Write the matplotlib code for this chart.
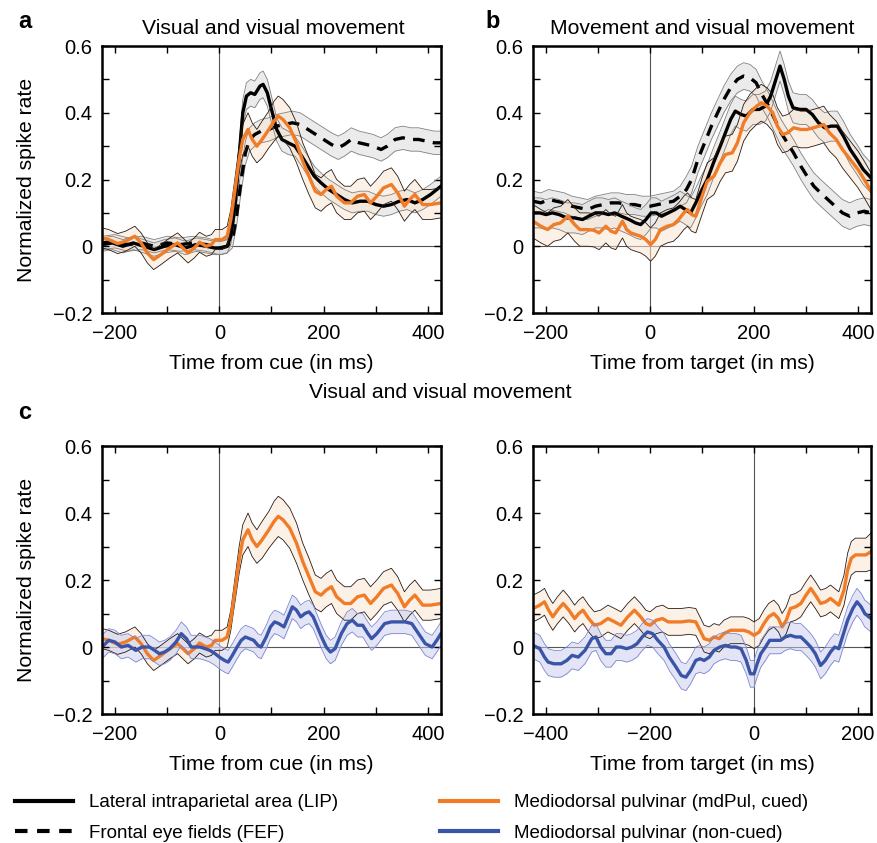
import matplotlib
matplotlib.use("Agg")
import matplotlib.pyplot as plt
from matplotlib.lines import Line2D
from matplotlib.ticker import MultipleLocator, FuncFormatter
import numpy as np

plt.rcParams['font.family'] = ['Liberation Sans', 'DejaVu Sans']
plt.rcParams['font.size'] = 15

ORANGE = '#f07c28'
BLUE = '#3a55a8'

# ---- panel a / c-left : aligned on cue ----
pul_cue_t = [-225, -212, -195, -180, -162, -150, -138, -126, -112, -95,
             -80, -70, -60, -48, -38, -25, -15, -8, 5, 15,
             22, 30, 38, 45, 55, 63, 72, 82, 95, 105,
             113, 122, 135, 148, 160, 172, 184, 195, 205, 215,
             225, 240, 252, 265, 278, 290, 302, 315, 330, 342,
             355, 365, 375, 390, 405, 425]
pul_cue_y = [0.025, 0.02, 0.008, 0.015, 0.03, 0.01, -0.02, -0.04, -0.025, -0.005,
             0.01, -0.005, -0.02, -0.005, 0.012, 0.0, 0.005, 0.02, 0.02, 0.03,
             0.08, 0.17, 0.26, 0.32, 0.35, 0.32, 0.30, 0.32, 0.35, 0.375,
             0.39, 0.38, 0.355, 0.31, 0.255, 0.21, 0.165, 0.155, 0.17, 0.18,
             0.15, 0.13, 0.13, 0.15, 0.155, 0.13, 0.15, 0.175, 0.185, 0.16,
             0.12, 0.14, 0.155, 0.125, 0.125, 0.13]
pul_cue_e = [0.03] * 20 + [0.03, 0.035, 0.04, 0.045, 0.05, 0.05, 0.05, 0.055, 0.055, 0.06,
                           0.06, 0.06, 0.06, 0.06, 0.055, 0.055, 0.05, 0.05, 0.05, 0.05] \
    + [0.05] * 10 + [0.045] * 6

lip_cue_t = [-225, -205, -185, -165, -145, -125, -105, -85, -65, -45,
             -25, -10, 5, 15, 22, 30, 38, 45, 52, 60,
             68, 78, 84, 92, 100, 110, 120, 132, 145, 158,
             170, 182, 195, 210, 225, 240, 255, 270, 285, 300,
             315, 330, 345, 360, 375, 390, 405, 425]
lip_cue_y = [0.005, 0.01, 0.0, 0.01, 0.0, -0.01, 0.0, 0.005, -0.005, 0.005,
             0.0, -0.005, -0.005, 0.0, 0.03, 0.12, 0.27, 0.40, 0.45, 0.46,
             0.455, 0.48, 0.485, 0.46, 0.41, 0.35, 0.32, 0.31, 0.30, 0.27,
             0.24, 0.21, 0.19, 0.17, 0.155, 0.14, 0.13, 0.135, 0.135, 0.125,
             0.12, 0.125, 0.135, 0.14, 0.13, 0.14, 0.155, 0.18]
lip_cue_e = [0.02] * 14 + [0.025, 0.03, 0.035, 0.04, 0.04, 0.04,
                           0.04, 0.04, 0.04, 0.04, 0.04, 0.035, 0.035, 0.035, 0.03, 0.03] \
    + [0.03] * 18

fef_cue_t = [-225, -200, -175, -150, -125, -100, -75, -50, -25, 0,
             15, 25, 33, 42, 50, 58, 68, 80, 95, 110,
             125, 140, 155, 170, 185, 200, 215, 228, 240, 253,
             268, 282, 295, 310, 322, 337, 352, 367, 382, 397,
             412, 425]
fef_cue_y = [0.01, 0.015, 0.005, 0.01, 0.0, 0.01, 0.005, 0.01, 0.005, -0.005,
             0.0, 0.02, 0.09, 0.2, 0.28, 0.32, 0.335, 0.345, 0.35, 0.36,
             0.365, 0.37, 0.365, 0.35, 0.335, 0.32, 0.305, 0.295, 0.305, 0.32,
             0.31, 0.305, 0.30, 0.29, 0.30, 0.32, 0.325, 0.32, 0.32, 0.315,
             0.31, 0.31]
fef_cue_e = [0.02] * 11 + [0.025, 0.03, 0.035] + [0.035] * 28

pul_non_t = [-225, -212, -200, -188, -175, -160, -148, -134, -124, -115,
             -105, -95, -83, -73, -63, -54, -45, -37, -27, -18,
             -8, 0, 10, 17, 25, 34, 42, 50, 58, 66,
             74, 80, 90, 98, 106, 114, 124, 132, 140, 148,
             156, 164, 172, 180, 188, 196, 205, 213, 222, 234,
             245, 255, 265, 275, 285, 292, 302, 317, 330, 343,
             356, 369, 382, 395, 408, 417, 425]
pul_non_y = [0.0, 0.02, 0.015, 0.0, 0.005, -0.01, 0.0, 0.0, -0.01, -0.02,
             -0.015, -0.005, 0.015, 0.04, 0.025, 0.0, 0.0, 0.0, -0.005, -0.01,
             -0.02, -0.03, -0.04, -0.045, -0.025, 0.0, 0.02, 0.03, 0.025, 0.02,
             0.005, 0.0, 0.03, 0.06, 0.075, 0.07, 0.06, 0.09, 0.12, 0.11,
             0.09, 0.10, 0.105, 0.09, 0.06, 0.03, 0.0, -0.015, -0.005, 0.04,
             0.07, 0.08, 0.065, 0.065, 0.04, 0.025, 0.04, 0.07, 0.075, 0.075,
             0.075, 0.07, 0.04, 0.01, 0.0, 0.02, 0.04]
pul_non_e = [0.035] * 67

# ---- panel b : aligned on target ----
pul_tgt_t = [-225, -210, -197, -185, -172, -158, -145, -135, -120, -108,
             -98, -85, -75, -66, -53, -45, -37, -28, -18, -8,
             1, 10, 20, 33, 45, 55, 65, 72, 80, 88,
             100, 110, 123, 135, 145, 158, 168, 180, 192, 205,
             214, 225, 236, 245, 255, 265, 276, 290, 302, 314,
             325, 334, 345, 358, 370, 385, 400, 412, 425]
pul_tgt_y = [0.075, 0.06, 0.05, 0.065, 0.07, 0.09, 0.065, 0.05, 0.05, 0.048,
             0.04, 0.06, 0.045, 0.04, 0.075, 0.05, 0.04, 0.035, 0.03, 0.02,
             0.005, 0.02, 0.05, 0.06, 0.065, 0.08, 0.10, 0.11, 0.095, 0.09,
             0.15, 0.195, 0.21, 0.25, 0.275, 0.28, 0.31, 0.37, 0.40, 0.42,
             0.43, 0.42, 0.40, 0.36, 0.335, 0.34, 0.355, 0.35, 0.35, 0.355,
             0.36, 0.365, 0.34, 0.32, 0.29, 0.26, 0.23, 0.20, 0.165]
pul_tgt_e = [0.05] * 30 + [0.055] * 29

lip_tgt_t = [-225, -212, -200, -188, -175, -160, -145, -130, -118, -105,
             -92, -80, -68, -55, -40, -28, -18, -8, 2, 12,
             22, 35, 48, 58, 68, 78, 88, 100, 110, 122,
             135, 145, 155, 164, 175, 185, 198, 210, 222, 232,
             242, 250, 258, 266, 275, 288, 300, 312, 324, 336,
             348, 360, 372, 385, 398, 410, 425]
lip_tgt_y = [0.10, 0.10, 0.095, 0.10, 0.095, 0.085, 0.085, 0.08, 0.09, 0.10,
             0.10, 0.095, 0.10, 0.09, 0.08, 0.07, 0.065, 0.08, 0.10, 0.10,
             0.09, 0.10, 0.11, 0.12, 0.11, 0.10, 0.13, 0.17, 0.20, 0.25,
             0.30, 0.34, 0.38, 0.405, 0.395, 0.39, 0.41, 0.41, 0.42, 0.45,
             0.50, 0.54, 0.50, 0.45, 0.415, 0.41, 0.41, 0.395, 0.37, 0.355,
             0.36, 0.36, 0.33, 0.29, 0.26, 0.23, 0.205]
lip_tgt_e = [0.045] * 57

fef_tgt_t = [-225, -210, -195, -180, -165, -150, -135, -120, -105, -90,
             -75, -60, -45, -30, -15, 0, 15, 30, 45, 58,
             70, 80, 92, 105, 118, 130, 142, 155, 168, 180,
             192, 204, 215, 228, 240, 252, 264, 276, 290, 302,
             315, 328, 342, 356, 370, 384, 398, 412, 425]
fef_tgt_y = [0.135, 0.13, 0.14, 0.135, 0.13, 0.12, 0.115, 0.11, 0.12, 0.125,
             0.13, 0.13, 0.125, 0.125, 0.12, 0.12, 0.125, 0.13, 0.135, 0.15,
             0.17, 0.20, 0.26, 0.31, 0.36, 0.40, 0.44, 0.475, 0.50, 0.51,
             0.505, 0.49, 0.455, 0.42, 0.38, 0.34, 0.31, 0.28, 0.24, 0.21,
             0.18, 0.16, 0.14, 0.12, 0.10, 0.09, 0.10, 0.105, 0.10]
fef_tgt_e = [0.03] * 20 + [0.04] * 29

# ---- panel c-right : aligned on target, long baseline ----
pulc_tgt_t = [-425, -412, -403, -395, -387, -378, -367, -356, -345, -337,
              -329, -318, -307, -295, -281, -268, -256, -243, -230, -218,
              -208, -200, -188, -176, -165, -153, -140, -125, -112, -104,
              -96, -86, -77, -67, -58, -45, -32, -20, -10, 0,
              10, 19, 28, 38, 47, 54, 62, 70, 80, 90,
              100, 109, 118, 128, 138, 147, 155, 163, 173, 180,
              187, 195, 205, 215, 225]
pulc_tgt_y = [0.115, 0.125, 0.135, 0.11, 0.09, 0.11, 0.13, 0.11, 0.085, 0.10,
              0.11, 0.085, 0.065, 0.07, 0.085, 0.075, 0.065, 0.09, 0.11, 0.09,
              0.07, 0.065, 0.08, 0.085, 0.075, 0.075, 0.075, 0.078, 0.075, 0.05,
              0.025, 0.02, 0.03, 0.025, 0.04, 0.05, 0.05, 0.05, 0.045, 0.035,
              0.045, 0.07, 0.09, 0.10, 0.085, 0.06, 0.08, 0.115, 0.12, 0.13,
              0.155, 0.175, 0.155, 0.13, 0.135, 0.145, 0.135, 0.125, 0.17, 0.23,
              0.265, 0.275, 0.275, 0.275, 0.285]
pulc_tgt_e = [0.04] * 58 + [0.045, 0.05, 0.05, 0.05, 0.05, 0.05, 0.055]

pnon_tgt_t = [-425, -412, -403, -396, -385, -371, -360, -350, -338, -325,
              -312, -304, -295, -285, -275, -265, -256, -245, -235, -225,
              -215, -205, -195, -185, -173, -163, -150, -140, -131, -122,
              -112, -104, -96, -86, -77, -66, -55, -45, -35, -25,
              -15, -7, 0, 6, 13, 22, 30, 42, 51, 60,
              70, 80, 90, 100, 109, 118, 128, 137, 147, 155,
              163, 172, 180, 190, 198, 206, 213, 225]
pnon_tgt_y = [0.005, -0.005, -0.03, -0.045, -0.05, -0.05, -0.04, -0.025, -0.03, -0.01,
              0.025, 0.03, 0.0, -0.02, -0.02, 0.0, 0.0, -0.005, 0.0, 0.01,
              0.03, 0.045, 0.04, 0.02, 0.0, -0.03, -0.06, -0.085, -0.09, -0.07,
              -0.04, -0.035, -0.04, -0.03, -0.01, 0.0, 0.005, 0.0, 0.0, -0.005,
              -0.04, -0.08, -0.08, -0.05, -0.02, 0.0, 0.02, 0.02, 0.02, 0.03,
              0.035, 0.03, 0.03, 0.015, 0.0, -0.02, -0.055, -0.04, -0.015, 0.0,
              -0.005, 0.04, 0.08, 0.115, 0.135, 0.12, 0.10, 0.085]
pnon_tgt_e = [0.04] * 68


def band(ax, t, y, e, fill, edge, alpha):
    t, y, e = np.asarray(t), np.asarray(y), np.asarray(e)
    ax.fill_between(t, y - e, y + e, color=fill, alpha=alpha, lw=0)
    ax.plot(t, y - e, color=edge, lw=0.6, solid_joinstyle='round')
    ax.plot(t, y + e, color=edge, lw=0.6, solid_joinstyle='round')


def draw_lip(ax, t, y, e):
    band(ax, t, y, e, '#dcdcdc', '#808080', 0.55)
    ax.plot(t, y, color='black', lw=2.4, solid_joinstyle='round')


def draw_fef(ax, t, y, e):
    band(ax, t, y, e, '#dcdcdc', '#808080', 0.55)
    ax.plot(t, y, color='black', lw=2.4, ls=(0, (3.5, 2.5)))


def draw_pul(ax, t, y, e):
    band(ax, t, y, e, '#fbe6d4', '#2a1a10', 0.55)
    ax.plot(t, y, color=ORANGE, lw=2.4, solid_joinstyle='round')


def draw_non(ax, t, y, e):
    band(ax, t, y, e, '#c8cdef', '#7c86cf', 0.5)
    ax.plot(t, y, color=BLUE, lw=2.4, solid_joinstyle='round')


def fmt_y(v, pos):
    if abs(v) < 1e-9:
        return '0'
    return f'{v:.1f}'.replace('-', '\u2212')


def fmt_x(v, pos):
    if abs(v) < 1e-9:
        return '0'
    return f'{v:.0f}'.replace('-', '\u2212')


def style(ax, xlim, xlabel, ylabel=True):
    ax.axhline(0, color='#555555', lw=0.8, zorder=0)
    ax.axvline(0, color='#555555', lw=0.8, zorder=0)
    ax.set_xlim(xlim)
    ax.set_ylim(-0.2, 0.6)
    ax.xaxis.set_major_locator(MultipleLocator(200))
    ax.xaxis.set_minor_locator(MultipleLocator(100))
    ax.yaxis.set_major_locator(MultipleLocator(0.2))
    ax.yaxis.set_minor_locator(MultipleLocator(0.1))
    ax.xaxis.set_major_formatter(FuncFormatter(fmt_x))
    ax.yaxis.set_major_formatter(FuncFormatter(fmt_y))
    ax.tick_params(which='both', direction='in', top=True, right=True,
                   length=5, width=1.0, labelsize=14.5)
    ax.tick_params(axis='x', which='both', pad=8)
    ax.tick_params(axis='y', which='both', pad=7)
    for s in ax.spines.values():
        s.set_linewidth(1.8)
    ax.set_xlabel(xlabel, fontsize=15.2, labelpad=8)
    if ylabel:
        ax.set_ylabel('Normalized spike rate', fontsize=15.2, labelpad=12)


fig = plt.figure(figsize=(8.77, 8.43), dpi=100)

ax_a = fig.add_axes([0.1163, 0.6287, 0.3865, 0.3167])
ax_b = fig.add_axes([0.6078, 0.6287, 0.3854, 0.3167])
ax_c1 = fig.add_axes([0.1163, 0.1530, 0.3865, 0.3179])
ax_c2 = fig.add_axes([0.6078, 0.1530, 0.3854, 0.3179])

draw_fef(ax_a, fef_cue_t, fef_cue_y, fef_cue_e)
draw_lip(ax_a, lip_cue_t, lip_cue_y, lip_cue_e)
draw_pul(ax_a, pul_cue_t, pul_cue_y, pul_cue_e)
style(ax_a, (-225, 425), 'Time from cue (in ms)')

draw_fef(ax_b, fef_tgt_t, fef_tgt_y, fef_tgt_e)
draw_lip(ax_b, lip_tgt_t, lip_tgt_y, lip_tgt_e)
draw_pul(ax_b, pul_tgt_t, pul_tgt_y, pul_tgt_e)
style(ax_b, (-225, 425), 'Time from target (in ms)', ylabel=False)

draw_pul(ax_c1, pul_cue_t, pul_cue_y, pul_cue_e)
draw_non(ax_c1, pul_non_t, pul_non_y, pul_non_e)
style(ax_c1, (-225, 425), 'Time from cue (in ms)')

draw_pul(ax_c2, pulc_tgt_t, pulc_tgt_y, pulc_tgt_e)
draw_non(ax_c2, pnon_tgt_t, pnon_tgt_y, pnon_tgt_e)
style(ax_c2, (-425, 225), 'Time from target (in ms)', ylabel=False)

fig.text(0.0205, 0.975, 'a', fontsize=17, fontweight='bold', va='center')
fig.text(0.554, 0.975, 'b', fontsize=17, fontweight='bold', va='center')
fig.text(0.0205, 0.511, 'c', fontsize=17, fontweight='bold', va='center')
fig.text(0.312, 0.966, 'Visual and visual movement', ha='center', va='center', fontsize=15.2)
fig.text(0.801, 0.966, 'Movement and visual movement', ha='center', va='center', fontsize=15.2)
fig.text(0.502, 0.534, 'Visual and visual movement', ha='center', va='center', fontsize=15.2)

h_lip = Line2D([], [], color='black', lw=3)
h_fef = Line2D([], [], color='black', lw=3, ls=(0, (3, 2.3)))
h_pul = Line2D([], [], color=ORANGE, lw=3)
h_non = Line2D([], [], color=BLUE, lw=3)
leg_kw = dict(loc='center left', frameon=False, fontsize=13.5, handlelength=3.1,
              handletextpad=0.85, labelspacing=0.72, borderpad=0, borderaxespad=0)
fig.legend(handles=[h_lip, h_fef],
           labels=['Lateral intraparietal area (LIP)', 'Frontal eye fields (FEF)'],
           bbox_to_anchor=(15 / 877, 1 - 818 / 843), **leg_kw)
fig.legend(handles=[h_pul, h_non],
           labels=['Mediodorsal pulvinar (mdPul, cued)', 'Mediodorsal pulvinar (non-cued)'],
           bbox_to_anchor=(440 / 877, 1 - 818 / 843), **leg_kw)

fig.savefig('out.png', dpi=100)
